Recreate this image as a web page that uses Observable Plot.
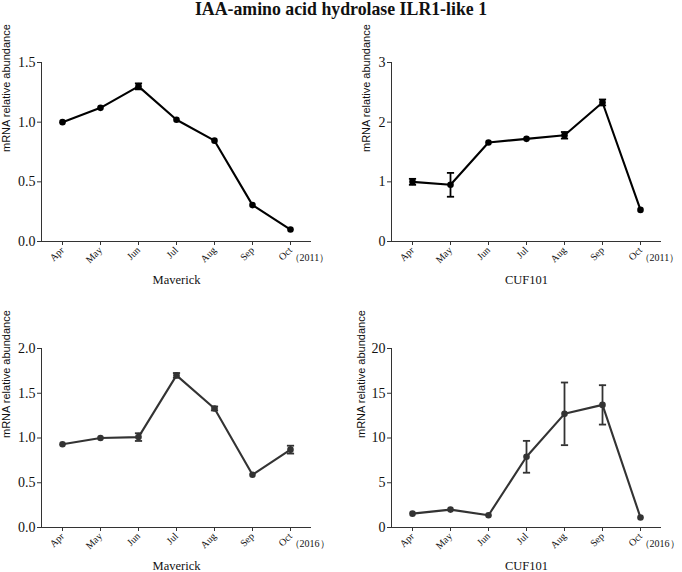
<!DOCTYPE html>
<html>
<head>
<meta charset="utf-8">
<script src="https://cdn.jsdelivr.net/npm/d3@7"></script>
<script src="https://cdn.jsdelivr.net/npm/@observablehq/plot@0.6"></script>
<style>
  body { margin: 0; background: #fff; overflow: hidden; }
  #wrap { position: relative; width: 682px; height: 572px; overflow: hidden; font-family: "Liberation Serif", "Times New Roman", serif; }
  #title { position: absolute; left: 0; top: -1px; width: 682px; text-align: center; font-weight: bold; font-size: 17.8px; line-height: 20px; color: #111; }
  .panel { position: absolute; }
</style>
</head>
<body>
<div id="wrap">
  <div id="title">IAA-amino acid hydrolase ILR1-like 1</div>
</div>
<script>
const months = ["Apr", "May", "Jun", "Jul", "Aug", "Sep", "Oct"];

const maverick2011 = [1.00, 1.12, 1.30, 1.02, 0.845, 0.305, 0.10];
const maverick2011Err = [0, 0, 0.025, 0, 0, 0, 0];
const cuf2011 = [1.00, 0.95, 1.66, 1.72, 1.78, 2.33, 0.53];
const cuf2011Err = [0.05, 0.20, 0, 0, 0.055, 0.05, 0];
const maverick2016 = [0.93, 1.00, 1.01, 1.70, 1.33, 0.59, 0.87];
const maverick2016Err = [0, 0, 0.043, 0.026, 0.022, 0, 0.044];
const cuf2016 = [1.55, 2.00, 1.37, 7.90, 12.70, 13.70, 1.11];
const cuf2016Err = [0, 0, 0, 1.78, 3.5, 2.2, 0];

const yTicksMav2011 = [0, 0.5, 1.0, 1.5];
const yTicksCuf2011 = [0, 1, 2, 3];
const yTicksMav2016 = [0, 0.5, 1.0, 1.5, 2.0];
const yTicksCuf2016 = [0, 5, 10, 15, 20];

const yLabel = "mRNA relative abundance";

const serif = "'Liberation Serif', 'Times New Roman', serif";
const sans = "'Liberation Sans', Arial, sans-serif";

// horizontal bar symbol for error-bar caps
const capSymbol = {
  draw(context, size) {
    const w = Math.sqrt(size / Math.PI);
    context.moveTo(-w, 0);
    context.lineTo(w, 0);
  }
};

function panel({values, errs, yMax, yTicks, yFormat, xLabel, yearLabel, color, yLabelDx, left, top}) {
  const data = months.map((m, i) => ({month: m, v: values[i], e: errs[i]}));
  const errData = data.filter(d => d.e > 0);
  const textColor = "#111";
  const axisColor = "#333";
  const plot = Plot.plot({
    width: 340,
    height: 248,
    marginLeft: 41,
    marginRight: 29,
    marginTop: 12,
    marginBottom: 57,
    style: {fontFamily: serif, background: "transparent", color: textColor, overflow: "visible"},
    x: {type: "point", domain: months, padding: 0.5},
    y: {domain: [0, yMax]},
    marks: [
      Plot.ruleY([0], {stroke: axisColor, strokeWidth: 1}),
      Plot.frame({anchor: "left", stroke: axisColor, strokeWidth: 1}),
      Plot.axisY(yTicks, {tickSize: 4, tickPadding: 2, tickFormat: yFormat, label: null, fontSize: 14, fontFamily: serif, stroke: axisColor}),
      Plot.axisX({tickSize: 4, tickPadding: 3, tickRotate: -45, label: null, fontSize: 10, fontFamily: serif, stroke: axisColor}),
      Plot.text([yLabel], {frameAnchor: "left", rotate: -90, dx: yLabelDx, fontSize: 11, fontFamily: sans, fill: textColor}),
      Plot.text([xLabel], {frameAnchor: "bottom", dy: 42, fontSize: 12.5, fontFamily: serif, fill: textColor}),
      Plot.text([{month: "Oct", label: yearLabel}], {x: "month", text: "label", frameAnchor: "bottom", textAnchor: "start", dx: -1, dy: 19, fontSize: 10, fontFamily: serif, fill: textColor}),
      Plot.line(data, {x: "month", y: "v", stroke: color, strokeWidth: 2.1}),
      Plot.ruleX(errData, {x: "month", y1: d => d.v - d.e, y2: d => d.v + d.e, stroke: color, strokeWidth: 1.8}),
      Plot.dot(errData, {x: "month", y: d => d.v - d.e, symbol: capSymbol, r: 3.6, stroke: color, strokeWidth: 1.8, fill: "none"}),
      Plot.dot(errData, {x: "month", y: d => d.v + d.e, symbol: capSymbol, r: 3.6, stroke: color, strokeWidth: 1.8, fill: "none"}),
      Plot.dot(data, {x: "month", y: "v", r: 3.3, fill: color, stroke: "none"})
    ]
  });
  plot.classList.add("panel");
  plot.style.left = left + "px";
  plot.style.top = top + "px";
  document.getElementById("wrap").appendChild(plot);
}

panel({values: maverick2011, errs: maverick2011Err, yMax: 1.5, yTicks: yTicksMav2011, yFormat: d3.format(".1f"),
  xLabel: "Maverick", yearLabel: "（2011）", color: "#000", yLabelDx: -35, left: 0, top: 50});
panel({values: cuf2011, errs: cuf2011Err, yMax: 3, yTicks: yTicksCuf2011, yFormat: d3.format("d"),
  xLabel: "CUF101", yearLabel: "（2011）", color: "#000", yLabelDx: -25, left: 350, top: 50});
panel({values: maverick2016, errs: maverick2016Err, yMax: 2, yTicks: yTicksMav2016, yFormat: d3.format(".1f"),
  xLabel: "Maverick", yearLabel: "（2016）", color: "#333", yLabelDx: -35, left: 0, top: 336});
panel({values: cuf2016, errs: cuf2016Err, yMax: 20, yTicks: yTicksCuf2016, yFormat: d3.format("d"),
  xLabel: "CUF101", yearLabel: "（2016）", color: "#333", yLabelDx: -30, left: 350, top: 336});
</script>
</body>
</html>
